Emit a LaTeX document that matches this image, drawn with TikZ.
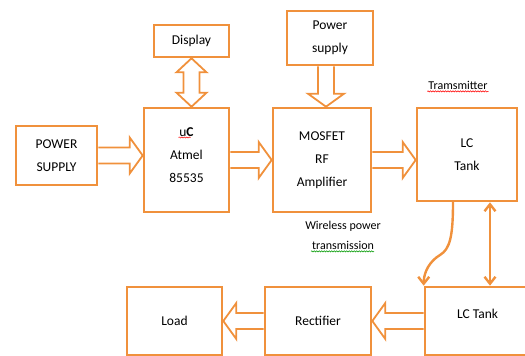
\documentclass[tikz,border=0pt]{standalone}
\usepackage{fontspec}
\setmainfont{Carlito}
\usetikzlibrary{arrows.meta,calc,decorations.pathmorphing}
\definecolor{boxorange}{RGB}{240,145,60}

\begin{document}
\begin{tikzpicture}[x=1pt,y=-1pt,
  blk/.style={draw=boxorange, line width=2.6pt, align=center, inner sep=0pt,
    font=\fontsize{13.5}{23}\selectfont},
  lbl/.style={font=\fontsize{12}{20}\selectfont, inner sep=1pt, align=center},
  fat/.style={draw=boxorange, line width=1.8pt, line join=miter, to path={
    let \p1=(\tikztostart), \p2=(\tikztotarget), \n1={atan2(\y2-\y1,\x2-\x1)} in
    ($(\p1)+({\n1+90}:8pt)$) -- ($(\p2)+(\n1:-13pt)+({\n1+90}:8pt)$)
    -- ($(\p2)+(\n1:-13pt)+({\n1+90}:18pt)$) -- (\p2)
    -- ($(\p2)+(\n1:-13pt)+({\n1-90}:18pt)$) -- ($(\p2)+(\n1:-13pt)+({\n1-90}:8pt)$)
    -- ($(\p1)+({\n1-90}:8pt)$)}},
  fatboth/.style={draw=boxorange, line width=1.8pt, line join=miter, to path={
    let \p1=(\tikztostart), \p2=(\tikztotarget), \n1={atan2(\y2-\y1,\x2-\x1)} in
    (\p1) -- ($(\p1)+(\n1:14pt)+({\n1+90}:15pt)$) -- ($(\p1)+(\n1:14pt)+({\n1+90}:8pt)$)
    -- ($(\p2)+(\n1:-14pt)+({\n1+90}:8pt)$) -- ($(\p2)+(\n1:-14pt)+({\n1+90}:15pt)$) -- (\p2)
    -- ($(\p2)+(\n1:-14pt)+({\n1-90}:15pt)$) -- ($(\p2)+(\n1:-14pt)+({\n1-90}:8pt)$)
    -- ($(\p1)+(\n1:14pt)+({\n1-90}:8pt)$) -- ($(\p1)+(\n1:14pt)+({\n1-90}:15pt)$) -- cycle}},
  link/.style={draw=boxorange, line width=2.4pt, line cap=round,
    -{Straight Barb[length=7pt,width=11pt]}},
  squig/.style={decorate, decoration={snake, amplitude=0.6pt, segment length=2.5pt},
    line width=0.5pt}]
\useasboundingbox (0,0) rectangle (525,356);
\clip (0,0) rectangle (525,356);

\node[blk, minimum width=81pt, minimum height=59pt] (ps) at (56.5,155.5) {POWER\\SUPPLY};
\node[blk, minimum width=75pt, minimum height=32pt] (disp) at (191.5,41) {Display};
\node[blk, minimum width=85pt, minimum height=104pt, text depth=10pt] (uc) at (186.5,160) {u\textbf{C}\\Atmel\\85535};
\node[blk, minimum width=86pt, minimum height=54pt] (pws) at (330,38) {Power\\supply};
\node[blk, minimum width=98pt, minimum height=104pt] (amp) at (322,160) {MOSFET\\RF\\Amplifier};
\node[blk, minimum width=100pt, minimum height=93pt] (lct) at (467,154.5) {LC\\Tank};
\node[blk, minimum width=105pt, minimum height=68pt, text depth=15pt] (lcr) at (477.5,321) {LC Tank};
\node[blk, minimum width=106pt, minimum height=68pt] (rect) at (318,321) {Rectifier};
\node[blk, minimum width=95pt, minimum height=68pt] (load) at (174.5,321) {Load};

\node[lbl] (tx) at (458,85) {Tramsmitter};
\node[lbl] (wpt) at (343,235) {Wireless power\\transmission};

\draw[fat] (ps.east) to (ps.east -| uc.west);
\draw[fatboth] (disp.south) to (disp.south |- uc.north);
\draw[fat] ([xshift=-4pt]pws.south) to ([xshift=-4pt]pws.south |- amp.north);
\draw[fat] (uc.east) to (amp.west);
\draw[fat] (amp.east) to (amp.east -| lct.west);
\draw[fat] (lcr.west) to (lcr.west -| rect.east);
\draw[fat] (rect.west) to (load.east);

\coordinate (bend) at (440,255);
\draw[link] ([xshift=-14pt]lct.south) .. controls +(0,34) and +(10,-6) .. (bend)
  .. controls +(-10,6) and +(0,-14) .. (lcr.north west);
\draw[link, {Straight Barb[length=7pt,width=11pt]}-{Straight Barb[length=7pt,width=11pt]}]
  ([xshift=23pt]lct.south) -- ([xshift=23pt]lct.south |- lcr.north);

\draw[squig, red] ([yshift=-1pt]tx.south west) -- ([yshift=-1pt]tx.south east);
\draw[squig, red] ([xshift=-8pt,yshift=22.5pt]uc.center) -- ([xshift=4pt,yshift=22.5pt]uc.center);
\draw[squig, green!60!black] ([xshift=-32pt,yshift=-1pt]wpt.south) -- ([xshift=31pt,yshift=-1pt]wpt.south);
\end{tikzpicture}
\end{document}
